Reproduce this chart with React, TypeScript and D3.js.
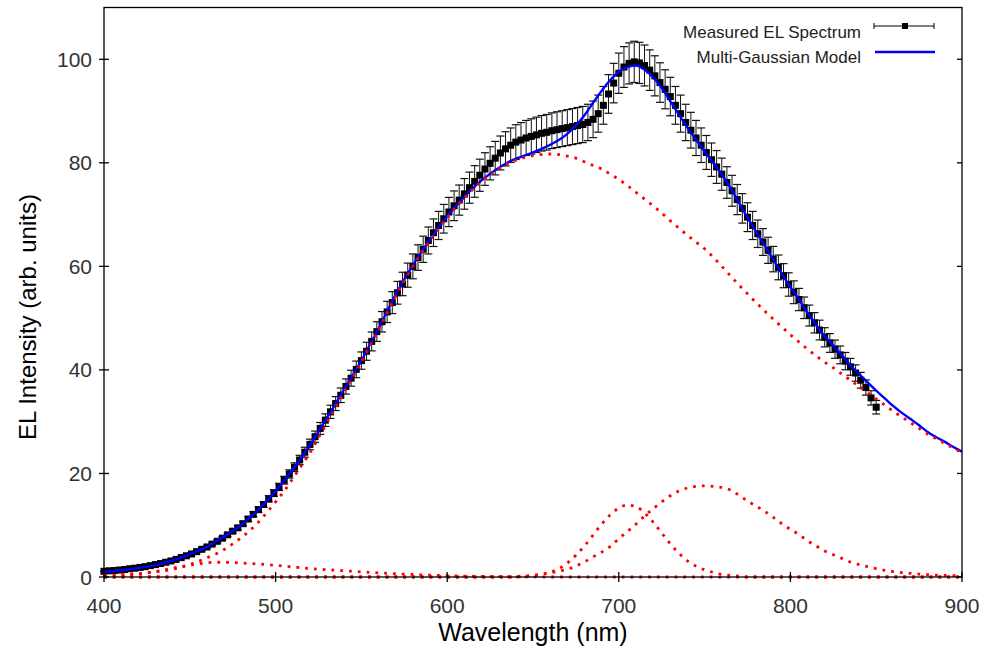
import React from "react";
import * as d3 from "d3";

const xTicks = [400, 500, 600, 700, 800, 900];
const yTicks = [0, 20, 40, 60, 80, 100];

const measuredWavelengths = [
  400, 403, 406, 409, 412, 415, 418, 421, 424, 427, 430, 433, 436, 439, 442, 445, 448, 451, 454, 457,
  460, 463, 466, 469, 472, 475, 478, 481, 484, 487, 490, 493, 496, 499, 502, 505, 508, 511, 514, 517,
  520, 523, 526, 529, 532, 535, 538, 541, 544, 547, 550, 553, 556, 559, 562, 565, 568, 571, 574, 577,
  580, 583, 586, 589, 592, 595, 598, 601, 604, 607, 610, 613, 616, 619, 622, 625, 628, 631, 634, 637,
  640, 643, 646, 649, 652, 655, 658, 661, 664, 667, 670, 673, 676, 679, 682, 685, 688, 691, 694, 697,
  700, 703, 706, 709, 712, 715, 718, 721, 724, 727, 730, 733, 736, 739, 742, 745, 748, 751, 754, 757,
  760, 763, 766, 769, 772, 775, 778, 781, 784, 787, 790, 793, 796, 799, 802, 805, 808, 811, 814, 817,
  820, 823, 826, 829, 832, 835, 838, 841, 844, 847, 850,
];
const measuredIntensity = [
  1.1, 1.2, 1.25, 1.35, 1.45, 1.6, 1.7, 1.85, 2.0, 2.2, 2.4, 2.6, 2.85, 3.1, 3.4, 3.75, 4.1, 4.45, 4.9, 5.35,
  5.8, 6.35, 6.9, 7.5, 8.15, 8.85, 9.5, 10.3, 11.2, 12.1, 13.0, 14.0, 15.1, 16.2, 17.4, 18.7, 19.9, 21.2, 22.6, 24.1,
  25.6, 27.1, 28.7, 30.3, 31.9, 33.5, 35.1, 36.8, 38.4, 40.1, 41.8, 43.6, 45.5, 47.4, 49.3, 51.2, 53.0, 54.9, 56.6, 58.3,
  60.0, 61.7, 63.3, 65.0, 66.5, 67.9, 69.2, 70.5, 71.7, 72.8, 74.0, 75.2, 76.4, 77.6, 78.8, 79.9, 80.9, 81.9, 82.7, 83.4,
  84.0, 84.4, 84.8, 85.1, 85.4, 85.7, 85.9, 86.2, 86.4, 86.6, 86.8, 87.0, 87.2, 87.4, 87.8, 88.4, 89.5, 91.1, 93.3, 95.4,
  97.3, 98.5, 99.2, 99.5, 99.3, 98.8, 97.9, 96.8, 95.5, 94.2, 92.8, 91.1, 89.5, 87.8, 86.3, 84.8, 83.4, 82.0, 80.6, 79.2,
  77.8, 76.2, 74.6, 72.9, 71.2, 69.5, 67.9, 66.3, 64.7, 63.1, 61.4, 59.8, 58.2, 56.5, 55.0, 53.6, 52.0, 50.5, 49.1, 47.7,
  46.3, 45.2, 44.0, 42.9, 41.7, 40.6, 39.4, 38.0, 36.6, 34.6, 32.8,
];
const relativeError = 0.04;

const modelWavelengths = [
  400, 405, 410, 415, 420, 425, 430, 435, 440, 445, 450, 455, 460, 465, 470, 475, 480, 485, 490, 495,
  500, 505, 510, 515, 520, 525, 530, 535, 540, 545, 550, 555, 560, 565, 570, 575, 580, 585, 590, 595,
  600, 605, 610, 615, 620, 625, 630, 635, 640, 645, 650, 655, 660, 665, 670, 675, 680, 685, 690, 695,
  700, 705, 710, 715, 720, 725, 730, 735, 740, 745, 750, 755, 760, 765, 770, 775, 780, 785, 790, 795,
  800, 805, 810, 815, 820, 825, 830, 835, 840, 845, 850, 855, 860, 865, 870, 875, 880, 885, 890, 895, 900,
];
const modelTotal = [
  1.0, 1.15, 1.3, 1.5, 1.7, 2.0, 2.3, 2.7, 3.2, 3.75, 4.4, 5.1, 5.8, 6.8, 7.8, 8.9, 10.0, 11.5, 13.0, 14.8,
  16.6, 18.6, 20.7, 23.0, 25.5, 28.1, 30.8, 33.5, 36.3, 39.0, 41.8, 44.9, 48.0, 51.3, 54.6, 57.5, 60.2, 62.8, 65.2, 67.5,
  69.7, 71.6, 73.4, 75.1, 76.6, 77.9, 79.0, 80.0, 80.8, 81.4, 82.0, 82.7, 83.5, 84.4, 85.6, 87.2, 89.2, 91.6, 93.9, 96.0,
  97.6, 98.5, 98.8, 98.0, 96.5, 94.5, 91.9, 89.3, 86.8, 84.5, 82.2, 80.0, 77.8, 75.2, 72.3, 69.4, 66.7, 64.1, 61.3, 58.6,
  56.0, 53.6, 51.0, 48.7, 46.5, 44.7, 42.8, 40.9, 39.2, 37.6, 36.0, 34.5, 33.0, 31.7, 30.5, 29.3, 28.0, 27.0, 26.1, 25.1, 24.2,
];
const gaussUV = [
  0.1, 0.2, 0.3, 0.45, 0.6, 0.8, 1.05, 1.35, 1.7, 2.0, 2.3, 2.55, 2.75, 2.85, 2.85, 2.8, 2.7, 2.6, 2.5, 2.4,
  2.25, 2.1, 1.95, 1.8, 1.65, 1.5, 1.4, 1.3, 1.2, 1.1, 1.0, 0.9, 0.8, 0.7, 0.62, 0.55, 0.48, 0.42, 0.36, 0.3,
  0.25, 0.21, 0.17, 0.14, 0.11, 0.09, 0.07, 0.05, 0.04, 0.03, 0.02, 0.01, 0, 0, 0, 0, 0, 0, 0, 0,
  0, 0, 0, 0, 0, 0, 0, 0, 0, 0, 0, 0, 0, 0, 0, 0, 0, 0, 0, 0,
  0, 0, 0, 0, 0, 0, 0, 0, 0, 0, 0, 0, 0, 0, 0, 0, 0, 0, 0, 0, 0,
];
const gaussMain = [
  0.3, 0.35, 0.45, 0.55, 0.65, 0.8, 1.0, 1.2, 1.5, 1.9, 2.4, 3.0, 3.7, 4.4, 5.3, 6.4, 7.6, 9.0, 10.6, 12.5,
  14.5, 16.6, 19.0, 21.5, 24.0, 26.9, 29.8, 32.8, 35.8, 38.6, 41.5, 44.6, 47.7, 51.0, 54.2, 57.2, 60.0, 62.6, 65.0, 67.3,
  69.4, 71.4, 73.2, 74.9, 76.4, 77.7, 78.8, 79.8, 80.5, 81.0, 81.4, 81.6, 81.7, 81.6, 81.3, 80.9, 80.2, 79.5, 78.8, 77.8,
  76.8, 75.6, 74.3, 73.0, 71.7, 70.3, 68.8, 67.4, 66.0, 64.7, 63.4, 61.8, 60.0, 58.2, 56.4, 54.7, 53.0, 51.4, 49.8, 48.3,
  46.8, 45.4, 44.0, 42.7, 41.5, 40.4, 39.2, 38.0, 36.8, 35.6, 34.4, 33.2, 32.0, 30.9, 29.8, 28.7, 27.6, 26.7, 25.8, 24.9, 24.0,
];
const gauss705 = [
  0, 0, 0, 0, 0, 0, 0, 0, 0, 0, 0, 0, 0, 0, 0, 0, 0, 0, 0, 0,
  0, 0, 0, 0, 0, 0, 0, 0, 0, 0, 0, 0, 0, 0, 0, 0, 0, 0, 0, 0,
  0, 0, 0, 0, 0, 0, 0, 0, 0, 0.1, 0.2, 0.5, 0.9, 1.6, 2.7, 4.2, 6.0, 8.1, 10.2, 12.0,
  13.3, 13.9, 13.6, 12.4, 10.6, 8.5, 6.4, 4.6, 3.1, 2.1, 1.4, 0.9, 0.5, 0.3, 0.15, 0, 0, 0, 0, 0,
  0, 0, 0, 0, 0, 0, 0, 0, 0, 0, 0, 0, 0, 0, 0, 0, 0, 0, 0, 0, 0,
];
const gauss750 = [
  0, 0, 0, 0, 0, 0, 0, 0, 0, 0, 0, 0, 0, 0, 0, 0, 0, 0, 0, 0,
  0, 0, 0, 0, 0, 0, 0, 0, 0, 0, 0, 0, 0, 0, 0, 0, 0, 0, 0, 0,
  0, 0, 0, 0, 0, 0, 0, 0, 0.1, 0.2, 0.35, 0.55, 0.8, 1.1, 1.5, 2.1, 2.9, 3.9, 4.8, 5.9,
  7.4, 8.8, 10.2, 11.8, 13.2, 14.5, 15.7, 16.6, 17.2, 17.5, 17.6, 17.5, 17.3, 16.8, 15.8, 14.7, 13.7, 12.7, 11.5, 10.3,
  9.2, 8.2, 7.0, 6.0, 5.0, 4.3, 3.6, 2.9, 2.4, 2.0, 1.6, 1.3, 1.05, 0.85, 0.7, 0.55, 0.45, 0.35, 0.3, 0.25, 0.2,
];

const legendLabels = ["Measured EL Spectrum", "Multi-Gaussian Model"];
const xTitle = "Wavelength (nm)";
const yTitle = "EL Intensity (arb. units)";

const W = 984;
const H = 649;
const M = { left: 104, right: 962, top: 7.5, bottom: 577 };
const FONT = "'Liberation Sans', Arial, Helvetica, sans-serif";

export default function App() {
  const x = d3.scaleLinear().domain([400, 900]).range([M.left, M.right]);
  const y = d3.scaleLinear().domain([0, 110]).range([M.bottom, M.top]);

  const line = d3
    .line<number>()
    .x((_, i) => x(modelWavelengths[i]))
    .y((d) => y(d))
    .curve(d3.curveMonotoneX);

  const components = [gaussUV, gaussMain, gauss705, gauss750];

  return (
    <svg
      width={W}
      height={H}
      viewBox={`0 0 ${W} ${H}`}
      style={{ position: "fixed", left: 0, top: 0, background: "#fff" }}
    >
      <defs>
        <clipPath id="plotClip">
          <rect x={M.left} y={M.top} width={M.right - M.left} height={M.bottom - M.top + 2} />
        </clipPath>
      </defs>
      <rect x={0} y={0} width={W} height={H} fill="#fff" />

      {/* measured data with error bars */}
      <g>
        {measuredIntensity.map((v, i) => {
          const cx = x(measuredWavelengths[i]);
          const e = v * relativeError;
          const y1 = y(v + e);
          const y2 = y(v - e);
          return (
            <g key={i}>
              <line x1={cx} x2={cx} y1={y1} y2={y2} stroke="#111" strokeWidth={1} />
              <line x1={cx - 4} x2={cx + 4} y1={y1} y2={y1} stroke="#111" strokeWidth={1.2} />
              <line x1={cx - 4} x2={cx + 4} y1={y2} y2={y2} stroke="#111" strokeWidth={1.2} />
            </g>
          );
        })}
        {measuredIntensity.map((v, i) => (
          <rect
            key={"m" + i}
            x={x(measuredWavelengths[i]) - 3.5}
            y={y(v) - 3.5}
            width={7}
            height={7}
            fill="#000"
          />
        ))}
      </g>

      {/* model */}
      <path d={line(modelTotal) || ""} fill="none" stroke="#0000ff" strokeWidth={2.4} clipPath="url(#plotClip)" />

      {/* gaussian components */}
      <g clipPath="url(#plotClip)">
        {components.map((c, k) => (
          <path
            key={k}
            d={line(c) || ""}
            fill="none"
            stroke="#ff0000"
            strokeWidth={2.8}
            strokeDasharray="2.8 6"
          />
        ))}
      </g>

      {/* frame */}
      <rect
        x={M.left}
        y={M.top}
        width={M.right - M.left}
        height={M.bottom - M.top}
        fill="none"
        stroke="#000"
        strokeWidth={1.3}
      />

      {/* x ticks */}
      {xTicks.map((t) => (
        <g key={t}>
          <line x1={x(t)} x2={x(t)} y1={M.bottom - 5} y2={M.bottom + 5} stroke="#000" strokeWidth={1.3} />
          <text x={x(t)} y={613} textAnchor="middle" fontFamily={FONT} fontSize={21} fill="#333">
            {t}
          </text>
        </g>
      ))}

      {/* y ticks */}
      {yTicks.map((t) => (
        <g key={t}>
          <line x1={M.left - 5} x2={M.left + 5} y1={y(t)} y2={y(t)} stroke="#000" strokeWidth={1.3} />
          <line x1={M.right - 5} x2={M.right} y1={y(t)} y2={y(t)} stroke="#000" strokeWidth={1.3} />
          <text x={92} y={y(t) + 7.5} textAnchor="end" fontFamily={FONT} fontSize={21} fill="#333">
            {t}
          </text>
        </g>
      ))}

      {/* axis titles */}
      <text x={(M.left + M.right) / 2} y={641} textAnchor="middle" fontFamily={FONT} fontSize={25} fill="#000">
        {xTitle}
      </text>
      <text
        transform={`translate(36, 317) rotate(-90)`}
        textAnchor="middle"
        fontFamily={FONT}
        fontSize={24}
        fill="#000"
      >
        {yTitle}
      </text>

      {/* legend */}
      <g fontFamily={FONT} fontSize={17} fill="#222">
        <text x={861} y={37.5} textAnchor="end">
          {legendLabels[0]}
        </text>
        <text x={861} y={62.5} textAnchor="end">
          {legendLabels[1]}
        </text>
        <line x1={874} x2={934} y1={26} y2={26} stroke="#000" strokeWidth={1} />
        <line x1={874} x2={874} y1={23} y2={29} stroke="#000" strokeWidth={1} />
        <line x1={934} x2={934} y1={23} y2={29} stroke="#000" strokeWidth={1} />
        <rect x={902} y={23} width={6} height={6} fill="#000" />
        <line x1={875} x2={935} y1={52} y2={52} stroke="#0000ff" strokeWidth={2.4} />
      </g>
    </svg>
  );
}
